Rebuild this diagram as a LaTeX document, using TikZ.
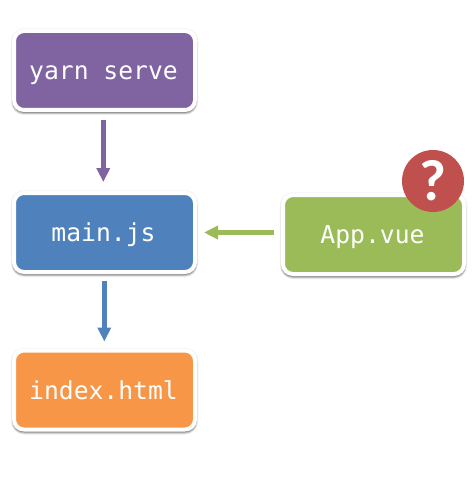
\documentclass[tikz,border=0pt]{standalone}
\usepackage{fontspec}
\setmonofont{DejaVu Sans Mono}
\setsansfont{Carlito}
\usetikzlibrary{arrows.meta,shadows}
\definecolor{cpurple}{HTML}{8064A2}
\definecolor{cblue}{HTML}{4F81BD}
\definecolor{cgreen}{HTML}{9BBB59}
\definecolor{corange}{HTML}{F79646}
\definecolor{cred}{HTML}{C0504D}
\tikzset{
  softshadow/.style={
    general shadow={shadow xshift=0pt,shadow yshift=-.5pt,draw=black,fill=black,line width=6.5pt,opacity=.05},
    general shadow={shadow xshift=0pt,shadow yshift=-2.5pt,draw=black,fill=black,line width=5pt,opacity=.08},
    general shadow={shadow xshift=0pt,shadow yshift=-2pt,draw=black,fill=black,line width=4pt,opacity=.14},
    general shadow={shadow xshift=0pt,shadow yshift=-1.5pt,draw=black,fill=black,line width=3pt,opacity=.18}},
  box/.style={softshadow,rectangle,rounded corners=10pt,draw=white,line width=4pt,
    minimum width=181pt,minimum height=79pt,inner sep=0pt,outer sep=0pt,text=white,
    text height=18pt,text depth=0pt,
    font=\ttfamily\fontsize{24.7pt}{28pt}\selectfont},
  flow/.style={line width=5pt,-{Triangle[width=13pt,length=14pt]}},
  badge/.style={circle,fill=cred,minimum size=62pt,inner sep=0pt,outer sep=0pt,text=white,
    font=\sffamily\bfseries\fontsize{58pt}{60pt}\selectfont}
}
\begin{document}
\begin{tikzpicture}[x=1pt,y=-1pt]
\useasboundingbox (0,0) rectangle (473,481);
\node[box,fill=cpurple] (yarn) at (104.5,70.5) {\hspace{-2pt}yarn serve};
\node[box,fill=cblue] (main) at (104.5,232.5) {\hspace{-2pt}main.js};
\node[box,fill=corange] (index) at (104.5,390) {\hspace{-2pt}index.html};
\node[box,fill=cgreen] (app) at (373.5,234.5) {\hspace{-2pt}App.vue};
\node[badge] (q) at (433,181) {?};
\draw[flow,cpurple,shorten <=10pt,shorten >=11pt] ([xshift=-1.2pt]yarn.south) -- ([xshift=-1.2pt]main.north);
\draw[flow,cblue,shorten <=9pt,shorten >=9pt] ([xshift=-.2pt]main.south) -- ([xshift=-.2pt]index.north);
\draw[flow,cgreen,shorten <=9pt,shorten >=9pt] (app.west |- main.east) -- (main.east);
\end{tikzpicture}
\end{document}
